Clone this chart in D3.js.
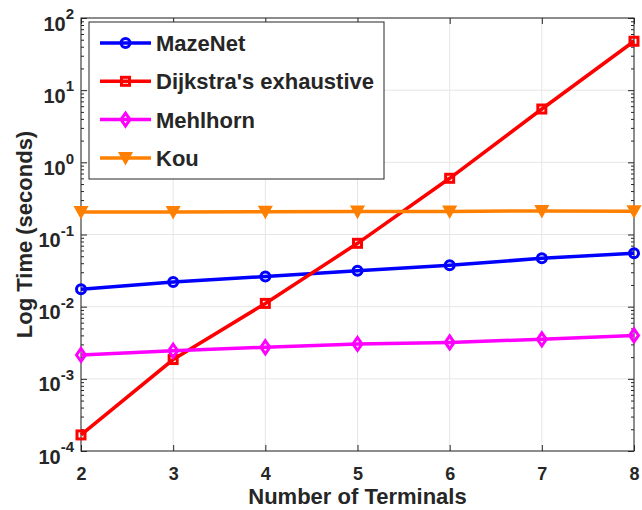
<!DOCTYPE html>
<html>
<head>
<meta charset="utf-8">
<script src="https://cdn.jsdelivr.net/npm/d3@7"></script>
<style>
  body { margin: 0; background: #fff; }
  svg text { font-family: "Liberation Sans", Arial, sans-serif; font-weight: bold; fill: #262626; }
</style>
</head>
<body>
<svg id="chart" width="642" height="510"></svg>
<script>
// data
var terminals = [2, 3, 4, 5, 6, 7, 8];
var mazenet   = [0.0174, 0.0220, 0.0262, 0.0315, 0.0374, 0.0468, 0.0550];
var dijkstra  = [0.000167, 0.00185, 0.0111, 0.0755, 0.601, 5.48, 47.6];
var mehlhorn  = [0.00214, 0.00245, 0.00274, 0.00304, 0.00320, 0.00353, 0.00400];
var kou       = [0.205, 0.205, 0.207, 0.208, 0.209, 0.212, 0.210];
var seriesNames = ["MazeNet", "Dijkstra's exhaustive", "Mehlhorn", "Kou"];
var yDecades = [1e-4, 1e-3, 1e-2, 1e-1, 1e0, 1e1, 1e2];

var series = [
  {name: seriesNames[0], values: mazenet,  color: "#0000ff", marker: "circle"},
  {name: seriesNames[1], values: dijkstra, color: "#ff0000", marker: "square"},
  {name: seriesNames[2], values: mehlhorn, color: "#ff00ff", marker: "diamond"},
  {name: seriesNames[3], values: kou,      color: "#ff8000", marker: "triangle"}
];

var svg = d3.select("#chart");
var margin = {left: 81, right: 8, top: 18, bottom: 59};
var width = 642 - margin.left - margin.right,
    height = 510 - margin.top - margin.bottom;
var axisColor = "#262626";

var x = d3.scaleLinear().domain([2, 8]).range([0, width]);
var y = d3.scaleLog().domain([1e-4, 1e2]).range([height, 0]);

var g = svg.append("g").attr("transform", "translate(" + margin.left + "," + margin.top + ")");

// grid
g.append("g").selectAll("line").data(terminals).enter().append("line")
  .attr("x1", d => x(d)).attr("x2", d => x(d)).attr("y1", 0).attr("y2", height)
  .attr("stroke", "#e6e6e6").attr("stroke-width", 1);
g.append("g").selectAll("line").data(yDecades).enter().append("line")
  .attr("y1", d => y(d)).attr("y2", d => y(d)).attr("x1", 0).attr("x2", width)
  .attr("stroke", "#e6e6e6").attr("stroke-width", 1);

// minor y ticks
var minor = [];
yDecades.slice(0, -1).forEach(function(d) {
  for (var k = 2; k <= 9; k++) minor.push(d * k);
});

function styleAxis(sel) {
  sel.select(".domain").remove();
  sel.selectAll(".tick line").attr("stroke", axisColor);
}

// x axis bottom/top
var xb = g.append("g").attr("transform", "translate(0," + height + ")")
  .call(d3.axisBottom(x).tickValues(terminals).tickSize(-6).tickPadding(16).tickFormat(d3.format("d")));
styleAxis(xb);
xb.selectAll(".tick text").attr("font-size", "18px").attr("fill", axisColor);
g.append("g").call(d3.axisTop(x).tickValues(terminals).tickSize(-6).tickFormat("")).call(styleAxis);

// y axis major left/right
var yl = g.append("g").call(d3.axisLeft(y).tickValues(yDecades).tickSize(-6).tickPadding(0).tickFormat(""));
styleAxis(yl);
g.append("g").attr("transform", "translate(" + width + ",0)")
  .call(d3.axisRight(y).tickValues(yDecades).tickSize(-6).tickFormat("")).call(styleAxis);
g.append("g").call(d3.axisLeft(y).tickValues(minor).tickSize(-3).tickFormat("")).call(styleAxis);
g.append("g").attr("transform", "translate(" + width + ",0)")
  .call(d3.axisRight(y).tickValues(minor).tickSize(-3).tickFormat("")).call(styleAxis);

// y tick labels as 10^n
yl.selectAll(".tick").each(function(d) {
  var t = d3.select(this).append("text")
    .attr("x", -7).attr("y", 12).attr("text-anchor", "end").attr("fill", axisColor);
  t.append("tspan").attr("font-size", "20px").text("10");
  t.append("tspan").attr("font-size", "15px").attr("dy", "-0.75em")
    .text(Math.round(Math.log10(d)));
});

// box
g.append("rect").attr("width", width).attr("height", height)
  .attr("fill", "none").attr("stroke", axisColor).attr("stroke-width", 1);

// axis titles
svg.append("text").attr("x", margin.left + width / 2).attr("y", 504)
  .attr("text-anchor", "middle").attr("font-size", "22px").text("Number of Terminals");
svg.append("text").attr("transform", "translate(32," + (margin.top + height / 2) + ") rotate(-90)")
  .attr("text-anchor", "middle").attr("font-size", "22px").text("Log Time (seconds)");

// markers
function drawMarker(sel, type, color) {
  if (type === "circle") {
    sel.append("circle").attr("r", 4.5);
  } else if (type === "square") {
    sel.append("rect").attr("x", -4).attr("y", -4).attr("width", 8).attr("height", 8);
  } else if (type === "diamond") {
    sel.append("path").attr("d", "M0,-6.5L4.5,0L0,6.5L-4.5,0Z");
  } else {
    sel.append("path").attr("d", "M-5,-4.5L5,-4.5L0,4.5Z");
  }
  sel.selectAll("*").attr("fill", type === "triangle" ? color : "none")
    .attr("stroke", color).attr("stroke-width", 3);
}

var line = d3.line().x((d, i) => x(terminals[i])).y(d => y(d));

series.forEach(function(s) {
  g.append("path").datum(s.values).attr("d", line)
    .attr("fill", "none").attr("stroke", s.color).attr("stroke-width", 3.5);
  g.selectAll(".m-" + s.marker).data(s.values).enter().append("g")
    .attr("class", "m-" + s.marker)
    .attr("transform", (d, i) => "translate(" + x(terminals[i]) + "," + y(d) + ")")
    .each(function() { drawMarker(d3.select(this), s.marker, s.color); });
});

// legend
var lg = svg.append("g").attr("transform", "translate(89,22)");
lg.append("rect").attr("width", 295).attr("height", 157)
  .attr("fill", "#fff").attr("stroke", axisColor).attr("stroke-width", 1);
series.forEach(function(s, i) {
  var row = lg.append("g").attr("transform", "translate(0," + (21 + i * 38.3) + ")");
  row.append("line").attr("x1", 11).attr("x2", 62)
    .attr("stroke", s.color).attr("stroke-width", 3.5);
  var m = row.append("g").attr("transform", "translate(36.5,0)");
  drawMarker(m, s.marker, s.color);
  row.append("text").attr("x", 67).attr("dy", "0.36em").attr("font-size", "22px")
    .attr("fill", "#000").text(s.name);
});
</script>
</body>
</html>
